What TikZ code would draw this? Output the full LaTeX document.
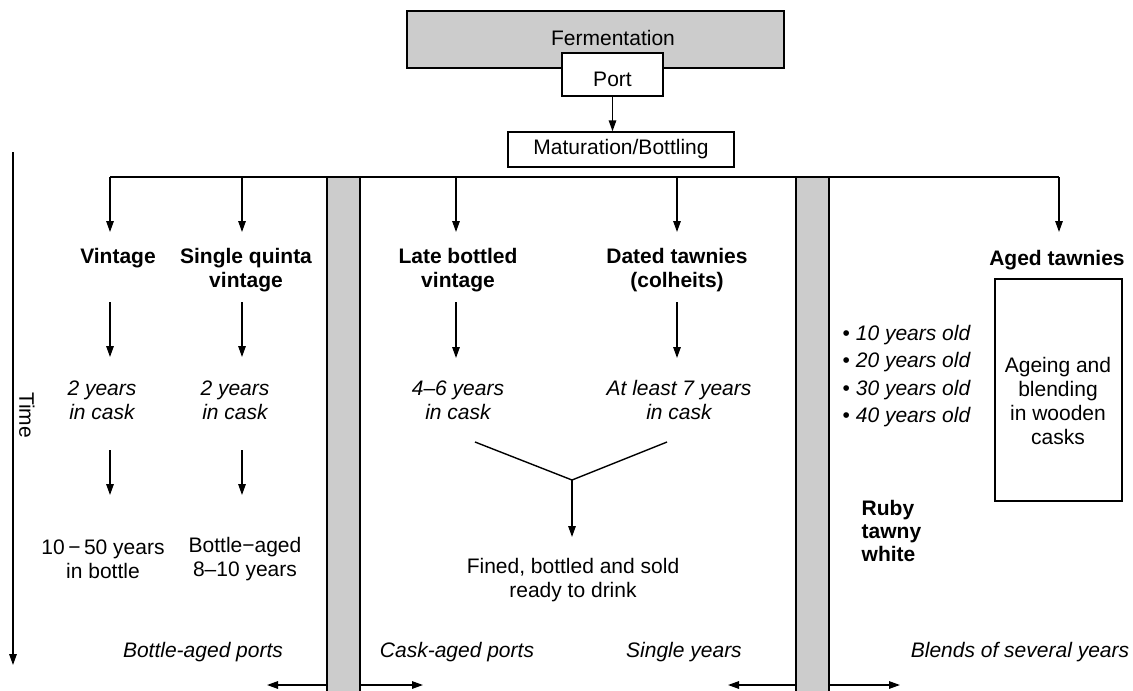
\documentclass[tikz,border=0pt]{standalone}
\usepackage{fontspec}
\setmainfont{Liberation Sans}
\usetikzlibrary{arrows.meta}
\definecolor{panelgray}{RGB}{204,204,204}
\begin{document}
\begin{tikzpicture}[x=1pt,y=-1pt,
  line width=1.4pt,
  every node/.style={font=\fontsize{21}{24}\selectfont, inner sep=0pt, align=center},
  arr/.style={-{Triangle[length=11pt,width=7.5pt]}},
  head/.style={font=\fontsize{21}{24}\selectfont\bfseries},
  note/.style={font=\fontsize{21}{24}\selectfont\itshape},
  bar/.style={draw, fill=panelgray, minimum width=33pt, minimum height=516pt, anchor=north}]
\useasboundingbox (0,0) rectangle (1133,691);

% --- top of the chart: fermentation, port, maturation
\node[draw, fill=panelgray, minimum width=377pt, minimum height=57pt] (ferm) at (595.5,39.5) {};
\node (fermtxt) at (613,38) {Fermentation};
\node[draw, fill=white, minimum width=101pt, minimum height=43pt] (portbox) at (612.5,74.5) {};
\node (port) at (612.5,79) {Port};
\node[draw, minimum width=226pt, minimum height=35pt] (mat) at (621,149.5) {Maturation/Bottling};
\draw[arr] (portbox.south) -- (mat.north -| portbox.south);

% --- grey separators between the port families
\node[bar] (barL) at (343.5,177) {};
\node[bar] (barR) at (812.5,177) {};

% --- distribution line and the five branches
\coordinate (b1) at (110,177);
\coordinate (b2) at (242,177);
\coordinate (b3) at (456,177);
\coordinate (b4) at (677,177);
\coordinate (b5) at (1059,177);
\draw (b1) -- (b5);
\foreach \c in {b1,b2,b3,b4,b5} \draw[arr] (\c) -- ++(0,55);

% --- time axis
\coordinate (t0) at (13,152);
\coordinate (t1) at (13,665);
\draw[arr] (t0) -- (t1);
\node[rotate=-90] (time) at (27,415) {Time};

% --- bottle-aged ports
\node[head] (vint) at (118,258) {Vintage};
\node[head] (sqv) at (246,270) {Single quinta\\vintage};
\draw[arr] (110,302) -- (110,357);
\draw[arr] (242,302) -- (242,357);
\node[note] (vcask) at (102,400) {2 years\\in cask};
\node[note] (scask) at (235,400) {2 years\\in cask};
\draw[arr] (110,450) -- (110,495);
\draw[arr] (242,450) -- (242,495);
\node (vbot) at (103,559) {10\,−\,50 years\\in bottle};
\node (sbot) at (245,559) {Bottle−aged\\8–10 years};

% --- cask-aged ports
\node[head] (lbv) at (458,270) {Late bottled\\vintage};
\node[head] (dated) at (677,270) {Dated tawnies\\(colheits)};
\draw[arr] (456,302) -- (456,358);
\draw[arr] (677,302) -- (677,358);
\node[note] (lcask) at (458,400) {4–6 years\\in cask};
\node[note] (dcask) at (679,400) {At least 7 years\\in cask};
\coordinate (vl) at (475,442);
\coordinate (vr) at (667,442);
\coordinate (vj) at (572,480);
\draw (vl) -- (vj) -- (vr);
\node (fined) at (573,580) {Fined, bottled and sold\\ready to drink};
\draw[arr] (vj) -- ++(0,57);

% --- blends
\node[anchor=west, align=left, font=\fontsize{21}{27.3}\selectfont] (ages) at (842,376)
  {• \textit{10 years old}\\• \textit{20 years old}\\• \textit{30 years old}\\• \textit{40 years old}};
\node[anchor=west, align=left, font=\fontsize{21}{23}\selectfont\bfseries] (ruby) at (861,531)
  {Ruby\\tawny\\white};
\node[head] (aged) at (1057,260) {Aged tawnies};
\node[draw, minimum width=127pt, minimum height=222pt] (agebox) at (1058.5,390) {};
\node (agetxt) at (1058,401) {Ageing and\\blending\\in wooden\\casks};

% --- bottom labels and direction arrows
\node[note] (lab1) at (203,652) {Bottle-aged ports};
\node[note] (lab2) at (457,652) {Cask-aged ports};
\node[note] (lab3) at (684,652) {Single years};
\node[note] (lab4) at (1020,652) {Blends of several years};
\coordinate (row) at (0,685);
\draw[arr] (barL.west |- row) -- (267,685);
\draw[arr] (barL.east |- row) -- (423,685);
\draw[arr] (barR.west |- row) -- (728,685);
\draw[arr] (barR.east |- row) -- (900,685);
\end{tikzpicture}
\end{document}
